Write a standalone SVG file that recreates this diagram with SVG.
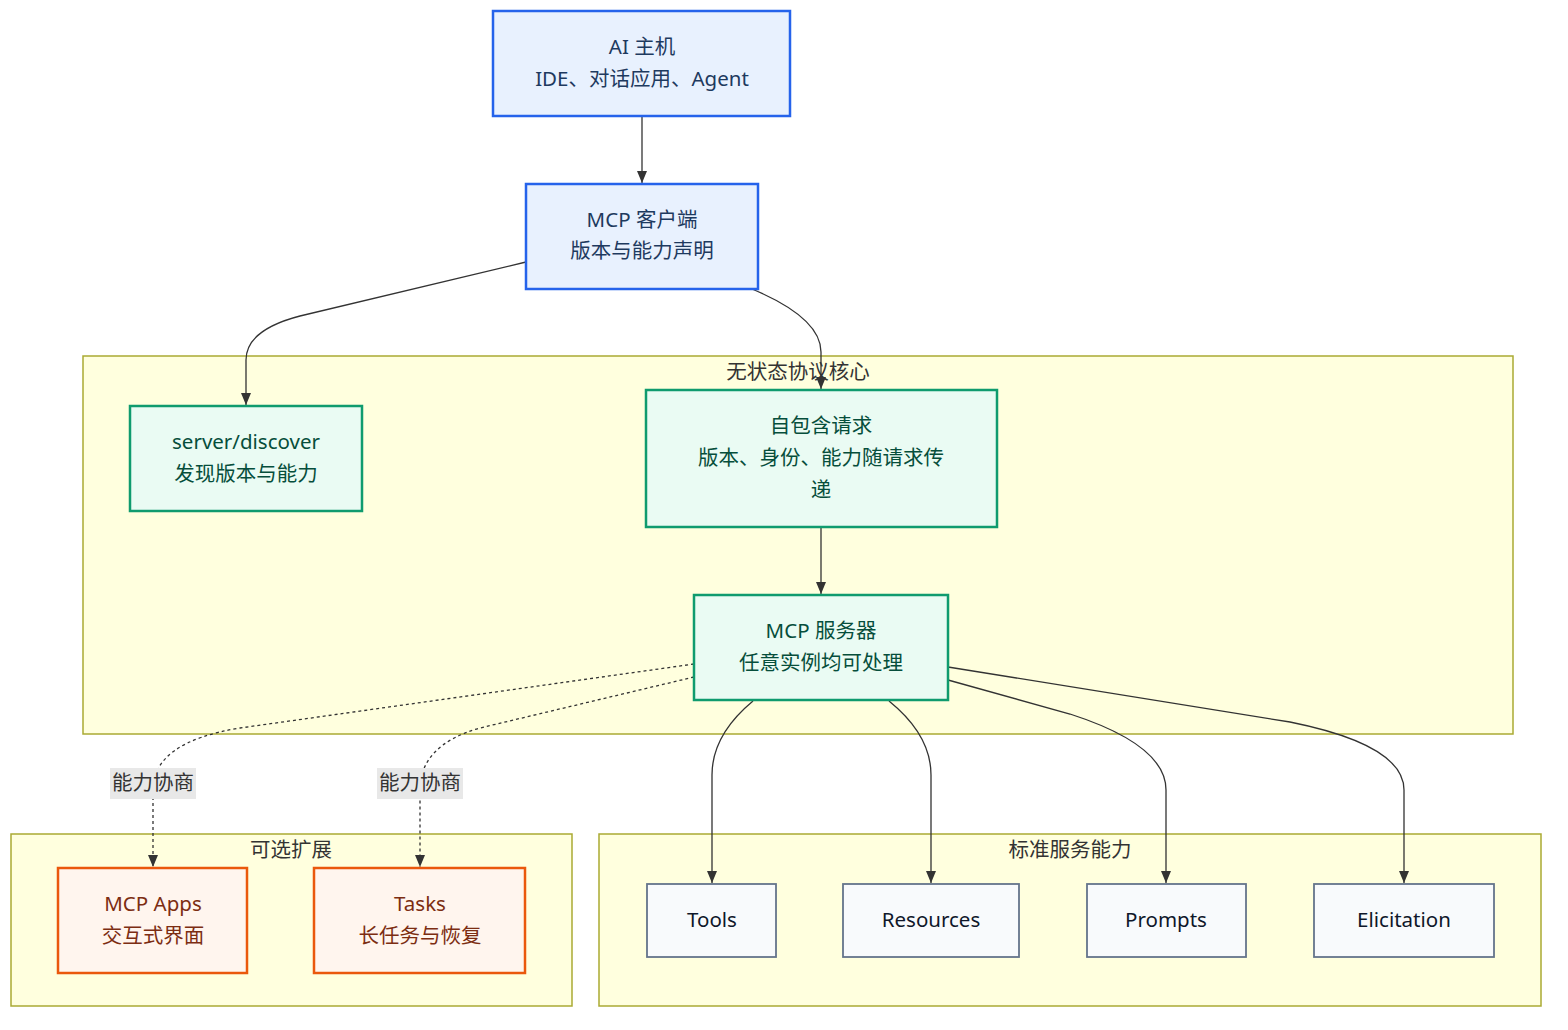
<svg xmlns="http://www.w3.org/2000/svg" width="1568" height="1030" viewBox="0 0 1568 1030">
<defs>
<style>
text{font-family:"Noto Sans","Noto Sans CJK SC",sans-serif;font-size:20.5px;text-anchor:middle;dominant-baseline:central}
.cl{fill:#ffffde;stroke:#aaaa33;stroke-width:1.5}
.cll{fill:#333}
.blue rect{fill:#e8f1fe;stroke:#2563eb;stroke-width:2.5}
.blue text{fill:#1e3a5f}
.green rect{fill:#eafbf3;stroke:#0f9b6e;stroke-width:2.5}
.green text{fill:#064e3b}
.orange rect{fill:#fff5ee;stroke:#ea580c;stroke-width:2.5}
.orange text{fill:#7c2d12}
.gray rect{fill:#f8fafc;stroke:#64748b;stroke-width:1.8}
.gray text{fill:#0f172a}
.e{fill:none;stroke:#333;stroke-width:1.3}
.d{stroke-dasharray:3 3}
.lb{fill:#e8e8e8}
</style>
<marker id="ah" viewBox="0 0 12 10" refX="12" refY="5" markerWidth="12" markerHeight="10" markerUnits="userSpaceOnUse" orient="auto">
<path d="M0,0 L12,5 L0,10 z" fill="#333"/>
</marker>
</defs>
<rect width="1568" height="1030" fill="#fff"/>
<g id="clusters">
<g id="cluster-core"><rect class="cl" x="83" y="356" width="1430" height="378"/><text class="cll" x="798" y="371">无状态协议核心</text></g>
<g id="cluster-ext"><rect class="cl" x="11" y="834" width="561" height="172"/><text class="cll" x="291" y="849">可选扩展</text></g>
<g id="cluster-std"><rect class="cl" x="599" y="834" width="942" height="172"/><text class="cll" x="1070" y="849">标准服务能力</text></g>
</g>
<g id="connectors">
<path class="e" d="M642,116 L642,183" marker-end="url(#ah)"/>
<path class="e" d="M526,262 L300,316 Q246,330 246,360 L246,405" marker-end="url(#ah)"/>
<path class="e" d="M752,289 Q821,318 821,352 L821,389" marker-end="url(#ah)"/>
<path class="e" d="M821,527 L821,594" marker-end="url(#ah)"/>
<path class="e d" d="M694,664 L240,728 Q153,742 153,790 L153,867" marker-end="url(#ah)"/>
<path class="e d" d="M694,677 L480,728 Q420,745 420,790 L420,867" marker-end="url(#ah)"/>
<path class="e" d="M753,701 Q712,735 712,775 L712,883" marker-end="url(#ah)"/>
<path class="e" d="M889,701 Q931,735 931,775 L931,883" marker-end="url(#ah)"/>
<path class="e" d="M948,680 L1070,714 Q1166,745 1166,790 L1166,883" marker-end="url(#ah)"/>
<path class="e" d="M948,667 L1290,722 Q1404,745 1404,790 L1404,883" marker-end="url(#ah)"/>
<g id="edge-labels">
<rect class="lb" x="110" y="768" width="86" height="31"/><text x="153" y="782" fill="#333">能力协商</text>
<rect class="lb" x="377" y="768" width="86" height="31"/><text x="420" y="782" fill="#333">能力协商</text>
</g>
</g>
<g id="host" class="blue"><rect x="493" y="11" width="297" height="105"/><text x="642" y="46">AI 主机</text><text x="642" y="78">IDE、对话应用、Agent</text></g>
<g id="client" class="blue"><rect x="526" y="184" width="232" height="105"/><text x="642" y="219">MCP 客户端</text><text x="642" y="250">版本与能力声明</text></g>
<g id="discover" class="green"><rect x="130" y="406" width="232" height="105"/><text x="246" y="441">server/discover</text><text x="246" y="473">发现版本与能力</text></g>
<g id="request" class="green"><rect x="646" y="390" width="351" height="137"/><text x="821" y="425">自包含请求</text><text x="821" y="457">版本、身份、能力随请求传</text><text x="821" y="489">递</text></g>
<g id="server" class="green"><rect x="694" y="595" width="254" height="105"/><text x="821" y="630">MCP 服务器</text><text x="821" y="662">任意实例均可处理</text></g>
<g id="apps" class="orange"><rect x="58" y="868" width="189" height="105"/><text x="153" y="903">MCP Apps</text><text x="153" y="935">交互式界面</text></g>
<g id="tasks" class="orange"><rect x="314" y="868" width="211" height="105"/><text x="420" y="903">Tasks</text><text x="420" y="935">长任务与恢复</text></g>
<g id="tools" class="gray"><rect x="647" y="884" width="129" height="73"/><text x="712" y="919">Tools</text></g>
<g id="resources" class="gray"><rect x="843" y="884" width="176" height="73"/><text x="931" y="919">Resources</text></g>
<g id="prompts" class="gray"><rect x="1087" y="884" width="159" height="73"/><text x="1166" y="919">Prompts</text></g>
<g id="elicitation" class="gray"><rect x="1314" y="884" width="180" height="73"/><text x="1404" y="919">Elicitation</text></g>
</svg>
